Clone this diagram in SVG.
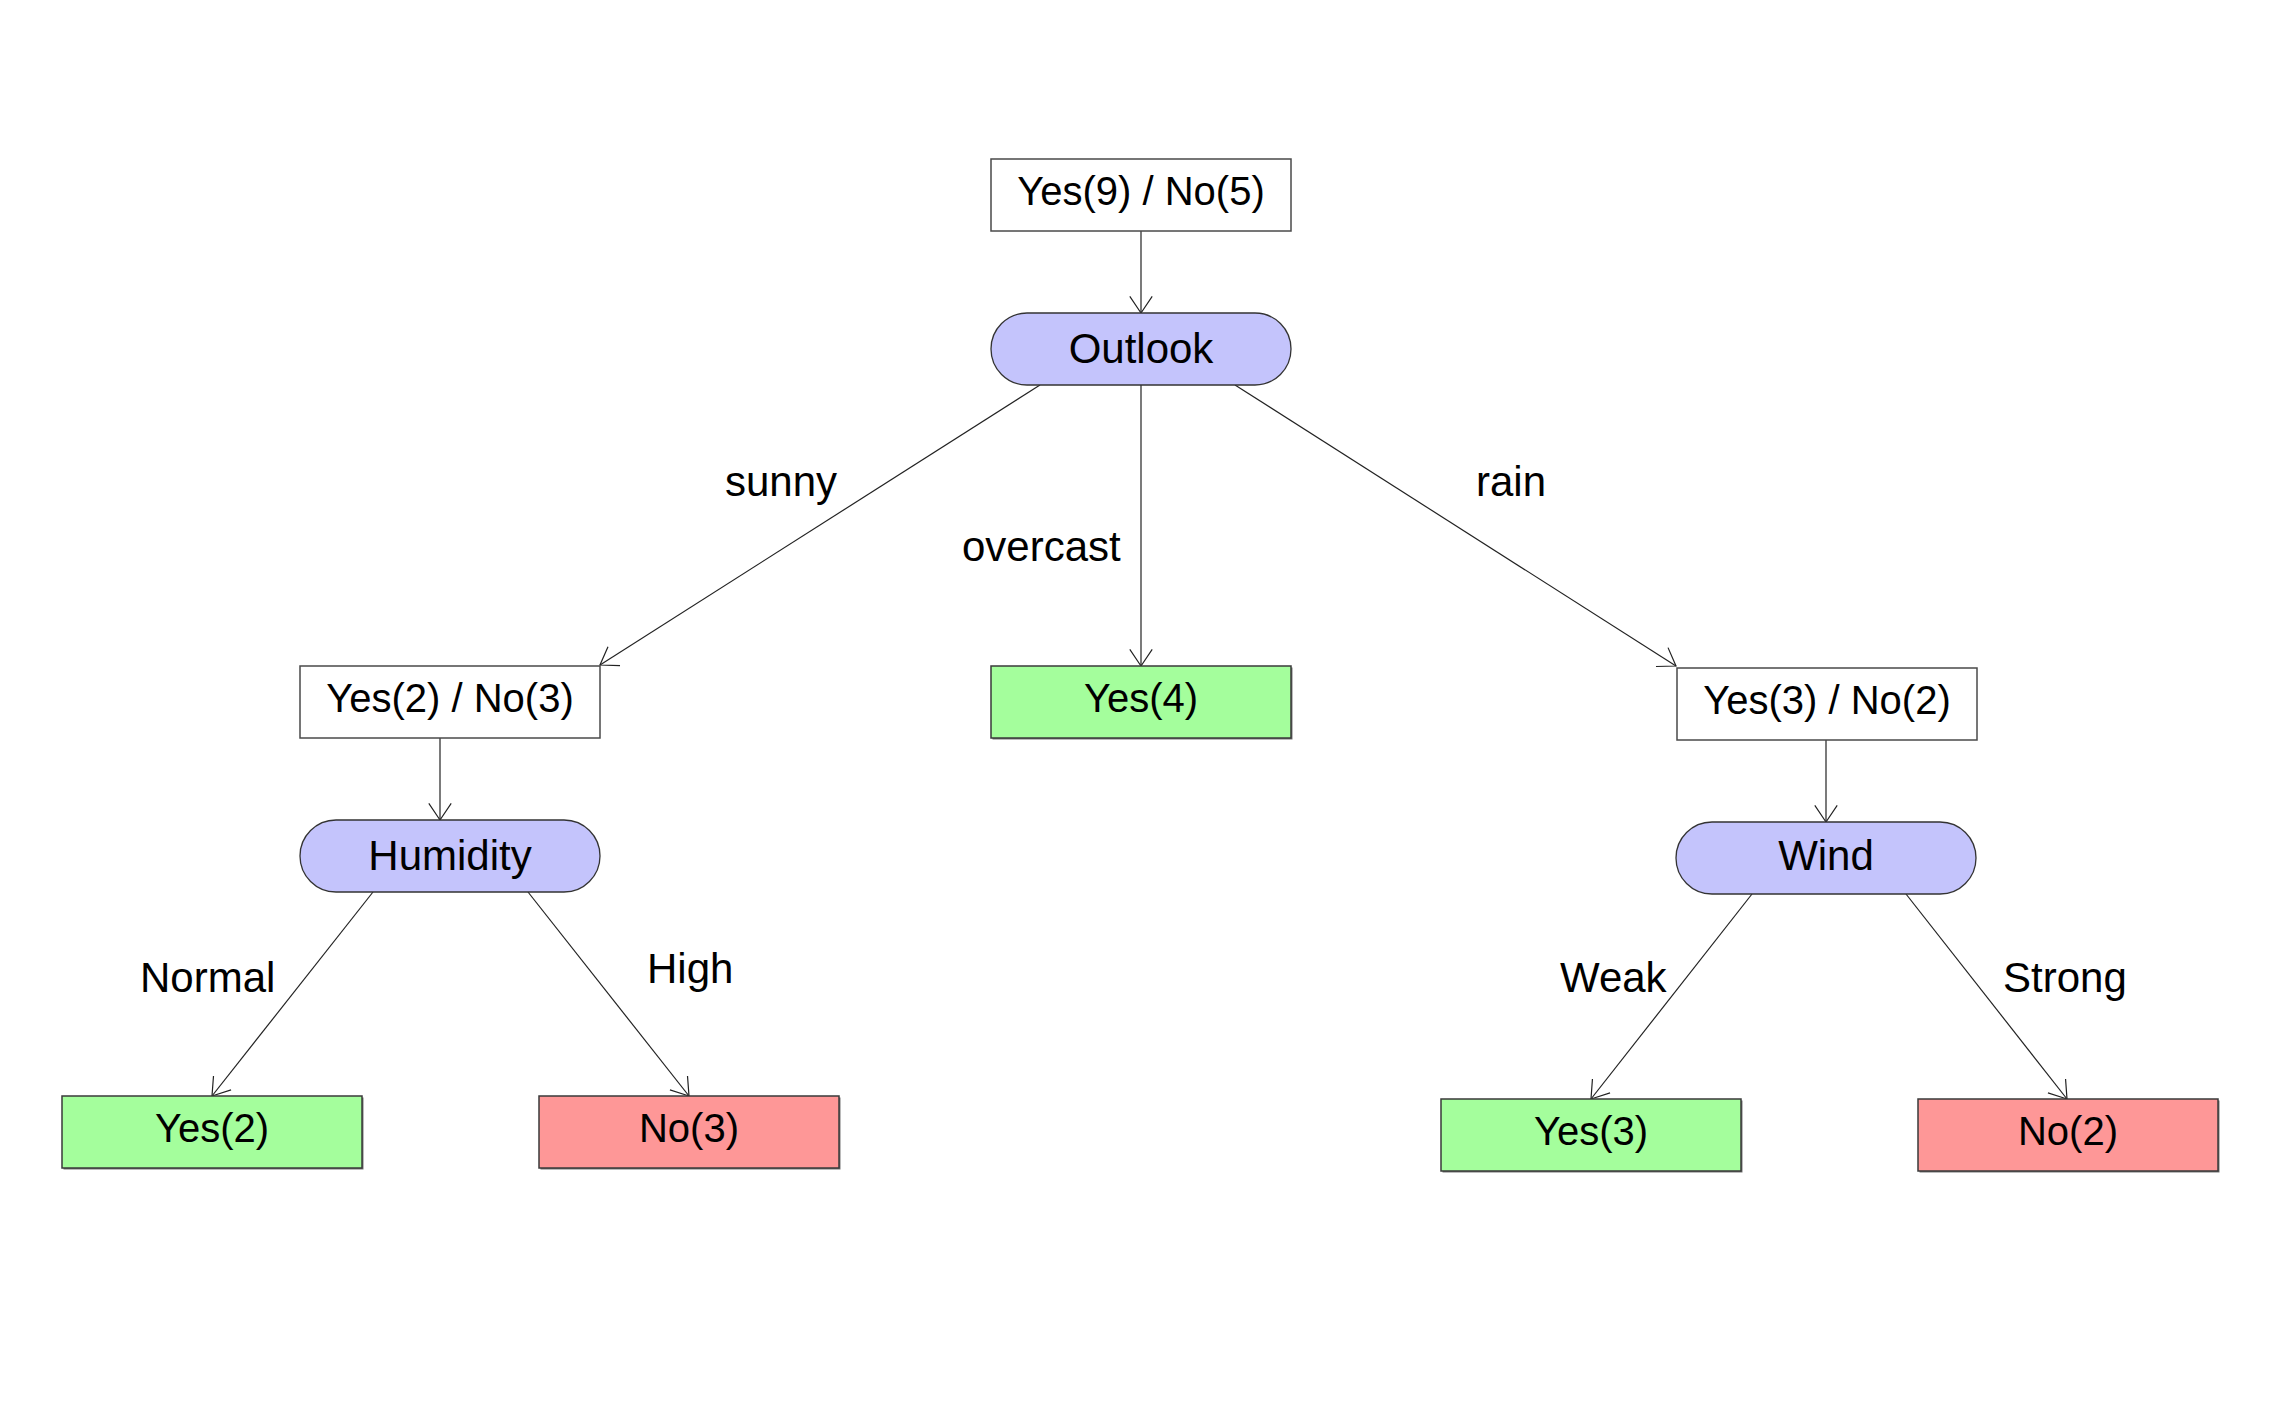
<svg xmlns="http://www.w3.org/2000/svg" width="2280" height="1425" viewBox="0 0 2280 1425">
<style>
.box{fill:#ffffff;stroke:#4a4a4a;stroke-width:1.5}
.yes{fill:#a4fe9c;stroke:#3a3a3a;stroke-width:1.5}
.no{fill:#fe9797;stroke:#3a3a3a;stroke-width:1.5}
.pill{fill:#c4c4fc;stroke:#333333;stroke-width:1.3}
.shadow{fill:#777777}
.t{font-family:"Liberation Sans",Arial,sans-serif;font-size:40px;fill:#000;text-anchor:middle}
.tp{font-family:"Liberation Sans",Arial,sans-serif;font-size:42px;fill:#000;text-anchor:middle}
.lbl{font-family:"Liberation Sans",Arial,sans-serif;font-size:42px;fill:#000}
.edge{stroke:#222;stroke-width:1.2;fill:none;marker-end:url(#arr)}
</style>
<defs>
<marker id="arr" viewBox="-20 -15 22 30" refX="0" refY="0" markerWidth="22" markerHeight="30" markerUnits="userSpaceOnUse" orient="auto" overflow="visible">
<path d="M-16.6,-11.2 L0,0 L-16.6,11.2" fill="none" stroke="#222" stroke-width="1.2"/>
</marker>
</defs>
<rect x="0" y="0" width="2280" height="1425" fill="#ffffff"/>
<g id="connectors">
<line class="edge" x1="1141" y1="231" x2="1141" y2="313"/>
<line class="edge" x1="1040" y1="385" x2="600" y2="665"/>
<line class="edge" x1="1141" y1="385" x2="1141" y2="666"/>
<line class="edge" x1="1235" y1="385" x2="1676" y2="666"/>
<line class="edge" x1="440" y1="738" x2="440" y2="820"/>
<line class="edge" x1="373" y1="892" x2="212" y2="1096"/>
<line class="edge" x1="528" y1="892" x2="689" y2="1096"/>
<line class="edge" x1="1826" y1="740" x2="1826" y2="822"/>
<line class="edge" x1="1752" y1="894" x2="1591" y2="1099"/>
<line class="edge" x1="1906" y1="894" x2="2067" y2="1099"/>
<text class="lbl" x="725" y="496">sunny</text>
<text class="lbl" x="962" y="561">overcast</text>
<text class="lbl" x="1476" y="496">rain</text>
<text class="lbl" x="140" y="992">Normal</text>
<text class="lbl" x="647" y="983">High</text>
<text class="lbl" x="1560" y="992">Weak</text>
<text class="lbl" x="2003" y="992">Strong</text>
</g>
<g id="root">
<rect class="box" x="991" y="159" width="300" height="72"/>
<text class="t" x="1141" y="205">Yes(9) / No(5)</text>
</g>
<g id="outlook">
<rect class="pill" x="991" y="313" width="300" height="72" rx="36" ry="36"/>
<text class="tp" x="1141" y="363">Outlook</text>
</g>
<g id="sunny-node">
<rect class="box" x="300" y="666" width="300" height="72"/>
<text class="t" x="450" y="712">Yes(2) / No(3)</text>
</g>
<g id="overcast-leaf">
<rect class="shadow" x="992.5" y="667.5" width="300" height="72"/>
<rect class="yes" x="991" y="666" width="300" height="72"/>
<text class="t" x="1141" y="712">Yes(4)</text>
</g>
<g id="rain-node">
<rect class="box" x="1677" y="668" width="300" height="72"/>
<text class="t" x="1827" y="714">Yes(3) / No(2)</text>
</g>
<g id="humidity">
<rect class="pill" x="300" y="820" width="300" height="72" rx="36" ry="36"/>
<text class="tp" x="450" y="870">Humidity</text>
</g>
<g id="wind">
<rect class="pill" x="1676" y="822" width="300" height="72" rx="36" ry="36"/>
<text class="tp" x="1826" y="870">Wind</text>
</g>
<g id="normal-leaf">
<rect class="shadow" x="63.5" y="1097.5" width="300" height="72"/>
<rect class="yes" x="62" y="1096" width="300" height="72"/>
<text class="t" x="212" y="1142">Yes(2)</text>
</g>
<g id="high-leaf">
<rect class="shadow" x="540.5" y="1097.5" width="300" height="72"/>
<rect class="no" x="539" y="1096" width="300" height="72"/>
<text class="t" x="689" y="1142">No(3)</text>
</g>
<g id="weak-leaf">
<rect class="shadow" x="1442.5" y="1100.5" width="300" height="72"/>
<rect class="yes" x="1441" y="1099" width="300" height="72"/>
<text class="t" x="1591" y="1145">Yes(3)</text>
</g>
<g id="strong-leaf">
<rect class="shadow" x="1919.5" y="1100.5" width="300" height="72"/>
<rect class="no" x="1918" y="1099" width="300" height="72"/>
<text class="t" x="2068" y="1145">No(2)</text>
</g>
</svg>
